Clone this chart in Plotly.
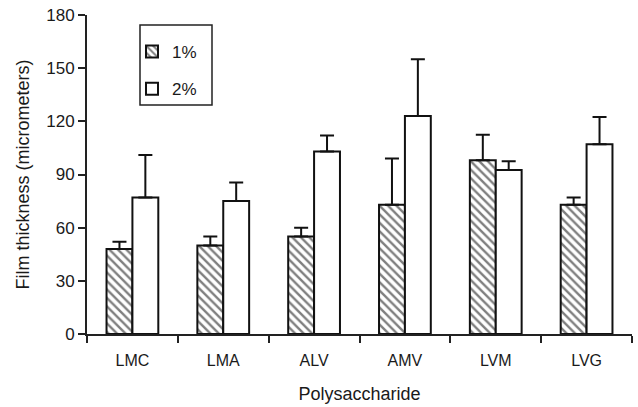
import plotly.graph_objects as go

categories = ["LMC", "LMA", "ALV", "AMV", "LVM", "LVG"]
val_1 = [48, 50, 55, 73, 98, 73]
err_1 = [4, 5, 5, 26, 14.5, 4]
val_2 = [77, 75, 103, 123, 92.5, 107]
err_2 = [24, 10.5, 9, 32, 5, 15.5]
y_ticks = [0, 30, 60, 90, 120, 150, 180]

font = dict(family="Arial, Liberation Sans, sans-serif", color="#1a1a1a", size=16)

fig = go.Figure()
fig.add_trace(go.Bar(
    x=categories, y=val_1, name="1%", legendgroup="a",
    marker=dict(color="white", line=dict(color="#111", width=2),
                pattern=dict(shape="\\", fgcolor="#000", bgcolor="white", size=6, solidity=0.4)),
    error_y=dict(type="data", array=err_1, symmetric=False, arrayminus=[0]*6,
                 color="#111", thickness=2, width=7),
))
fig.add_trace(go.Bar(
    x=categories, y=val_2, name="2%", legendgroup="b",
    marker=dict(color="white", line=dict(color="#111", width=2)),
    error_y=dict(type="data", array=err_2, symmetric=False, arrayminus=[0]*6,
                 color="#111", thickness=2, width=7),
))

# plot area: x 87..632 px, y 15..334 px
def px_x(p):
    return (p - 87) / 545

def px_y(p):
    return (334 - p) / 319

fig.update_layout(
    width=638, height=407,
    margin=dict(l=87, r=6, t=15, b=73),
    paper_bgcolor="white", plot_bgcolor="white",
    font=font,
    barmode="group", bargap=0.43, bargroupgap=0,
    showlegend=True,
    legend=dict(x=px_x(132), y=px_y(34), xanchor="left", yanchor="top",
                borderwidth=0, bgcolor="rgba(0,0,0,0)",
                tracegroupgap=12, font=dict(size=17),
                itemwidth=30),
    shapes=[dict(type="rect", xref="paper", yref="paper",
                 x0=px_x(140), x1=px_x(212), y0=px_y(105), y1=px_y(25),
                 line=dict(color="#222", width=1.5), layer="below")],
    xaxis=dict(
        title=dict(text="Polysaccharide", font=dict(size=18), standoff=19),
        automargin=False,
        showline=True, linecolor="#222", linewidth=2,
        ticks="outside", tickson="boundaries", ticklen=7, tickwidth=1.5, tickcolor="#222",
        ticklabelstandoff=11,
        showgrid=False, tickfont=dict(size=16),
    ),
    yaxis=dict(
        title=dict(text="Film thickness (micrometers)", font=dict(size=18), standoff=12),
        automargin=False,
        range=[0, 180], tickvals=y_ticks, ticktext=[str(v) for v in y_ticks],
        showline=True, linecolor="#222", linewidth=2,
        ticks="outside", ticklen=7, tickwidth=1.5, tickcolor="#222",
        showgrid=False, zeroline=False, tickfont=dict(size=17),
    ),
)

fig.write_html("out.html", config={"displayModeBar": False},
               post_script="document.body.style.margin='0';")
